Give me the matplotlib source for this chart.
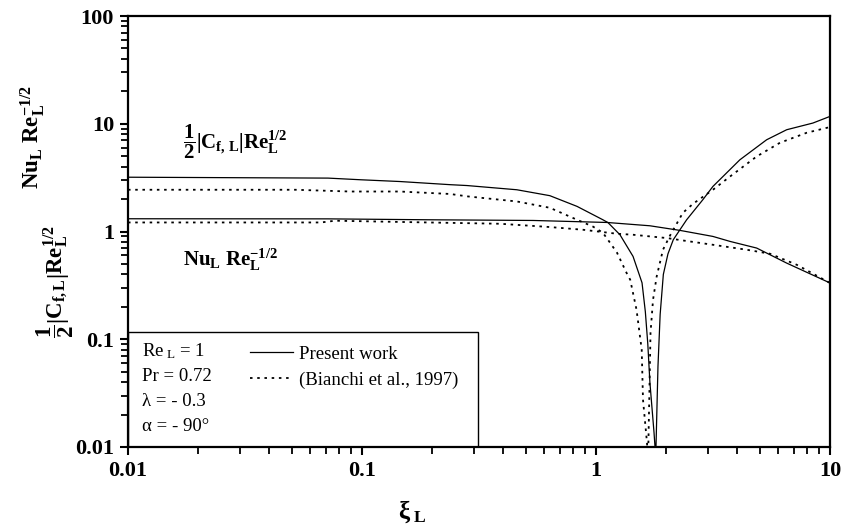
import matplotlib
matplotlib.use("Agg")
import matplotlib.pyplot as plt
from matplotlib.patches import Rectangle
from matplotlib.ticker import FixedLocator, LogLocator, NullFormatter

plt.rcParams['font.family'] = ['Liberation Serif', 'DejaVu Serif']
plt.rcParams['mathtext.fontset'] = 'custom'
plt.rcParams['mathtext.rm'] = 'Liberation Serif'
plt.rcParams['mathtext.it'] = 'Liberation Serif:italic'
plt.rcParams['mathtext.bf'] = 'Liberation Serif:bold'

# skin friction, present work
xi_cf_present = [0.01, 0.0716, 0.099, 0.145, 0.238, 0.281, 0.459, 0.635, 0.83, 1.07,
                 1.125, 1.266, 1.44, 1.573, 1.625, 1.665, 1.70, 1.77, 1.80, 1.84,
                 1.88, 1.94, 2.03, 2.14, 2.44, 2.86, 3.16, 4.12, 5.36, 6.53,
                 8.45, 10.0]
cf_present = [3.19, 3.13, 3.02, 2.91, 2.72, 2.67, 2.44, 2.15, 1.71, 1.285,
              1.21, 0.933, 0.587, 0.334, 0.18, 0.09, 0.0395, 0.0136, 0.008, 0.056,
              0.17, 0.40, 0.62, 0.84, 1.285, 1.97, 2.62, 4.63, 7.1, 8.8,
              10.15, 11.7]

# skin friction, Bianchi et al. (1997)
xi_cf_bianchi = [0.01, 0.0518, 0.089, 0.145, 0.238, 0.281, 0.459, 0.635, 0.83, 0.971,
                 1.07, 1.148, 1.23, 1.35, 1.40, 1.49, 1.568, 1.588, 1.647, 1.67,
                 1.69, 1.71, 1.753, 1.817, 1.933, 2.07, 2.35, 2.60, 3.16, 3.74,
                 4.86, 6.11, 7.95, 10.0]
cf_bianchi = [2.44, 2.44, 2.35, 2.35, 2.23, 2.12, 1.90, 1.66, 1.285, 1.11,
              0.974, 0.787, 0.635, 0.414, 0.357, 0.188, 0.080, 0.0275, 0.0117, 0.008,
              0.03, 0.115, 0.233, 0.383, 0.677, 0.914, 1.49, 1.81, 2.44, 3.24,
              4.97, 6.66, 8.25, 9.32]

# Nusselt number, present work
xi_nu_present = [0.01, 0.0716, 0.191, 0.538, 1.114, 1.70, 2.29, 3.16, 3.74, 4.86, 6.53, 10.0]
nu_present = [1.313, 1.31, 1.285, 1.266, 1.213, 1.13, 1.023, 0.90, 0.809, 0.702, 0.509, 0.333]

# Nusselt number, Bianchi et al. (1997)
xi_nu_bianchi = [0.01, 0.0668, 0.0767, 0.191, 0.389, 0.635, 0.88, 1.23, 1.44, 2.01,
                 2.35, 3.16, 4.41, 5.54, 7.21, 10.0]
nu_bianchi = [1.213, 1.213, 1.259, 1.213, 1.18, 1.10, 1.038, 0.953, 0.933, 0.869,
              0.826, 0.753, 0.677, 0.622, 0.491, 0.333]

x_ticks = [0.01, 0.1, 1, 10]
x_tick_labels = ['0.01', '0.1', '1', '10']
y_ticks = [0.01, 0.1, 1, 10, 100]
y_tick_labels = ['0.01', '0.1', '1', '10', '100']

params = [r'Re$_{\ \mathrm{L}}$ = 1', 'Pr = 0.72', 'λ = - 0.3', 'α = - 90°']

dots = (0, (1.4, 2.6))

fig = plt.figure(figsize=(8.46, 5.30), dpi=100)
ax = fig.add_axes([128 / 846, 83 / 530, 702 / 846, 431 / 530])

ax.plot(xi_cf_present, cf_present, color='black', lw=0.9, label='Present work')
ax.plot(xi_cf_bianchi, cf_bianchi, color='black', lw=1.3, linestyle=dots,
        label='(Bianchi et al., 1997)')
ax.plot(xi_nu_present, nu_present, color='black', lw=0.9)
ax.plot(xi_nu_bianchi, nu_bianchi, color='black', lw=1.3, linestyle=dots)

ax.set_xscale('log')
ax.set_yscale('log')
ax.set_xlim(0.01, 10)
ax.set_ylim(0.01, 100)

ax.xaxis.set_major_locator(FixedLocator(x_ticks))
ax.set_xticklabels(x_tick_labels)
ax.yaxis.set_major_locator(FixedLocator(y_ticks))
ax.set_yticklabels(y_tick_labels)
for axis in (ax.xaxis, ax.yaxis):
    axis.set_minor_locator(LogLocator(base=10, subs=range(2, 10), numticks=20))
    axis.set_minor_formatter(NullFormatter())

ax.tick_params(which='major', direction='out', length=6, width=1.5,
               labelsize=16, pad=4)
ax.tick_params(which='minor', direction='out', length=5, width=1.3)
for lab in ax.get_xticklabels() + ax.get_yticklabels():
    lab.set_fontweight('bold')
for sp in ax.spines.values():
    sp.set_linewidth(1.6)

# parameter box in the lower left corner
ax.add_patch(Rectangle((0, 0), 0.4986, 0.267, transform=ax.transAxes,
                       fill=False, edgecolor='black', lw=1.0, zorder=3))
for i, t in enumerate(params):
    ax.text(0.02, 0.2227 - i * 0.058, t, transform=ax.transAxes,
            fontsize=13.5, va='center', ha='left')

ax.legend(loc='center left', bbox_to_anchor=(0.16, 0.185), frameon=False,
          fontsize=13.5, handlelength=2.3, handletextpad=0.35, labelspacing=0.45,
          borderpad=0)

# curve labels
cf_label = r'$\mathbf{\dfrac{1}{2}\left|C_{f,\,L}\right|Re_L^{1/2}}$'
nu_label = r'$\mathbf{Nu_L\ Re_L^{-1/2}}$'
ax.text(0.078, 0.708, cf_label, transform=ax.transAxes, fontsize=15,
        ha='left', va='center')
ax.text(0.078, 0.434, nu_label, transform=ax.transAxes, fontsize=15,
        ha='left', va='center')

# axis titles
fig.text(0.039, 0.742, nu_label, rotation=90, fontsize=16.5,
         ha='center', va='center')
fig.text(0.066, 0.468, r'$\mathbf{\dfrac{1}{2}\left|C_{f,L}\right|Re_L^{1/2}}$',
         rotation=90, fontsize=16.5, ha='center', va='center')
fig.text(0.487, 0.034, r'$\mathbf{\xi}_{\ \mathbf{L}}$', fontsize=18,
         ha='center', va='center')

fig.savefig('out.png', dpi=100)
